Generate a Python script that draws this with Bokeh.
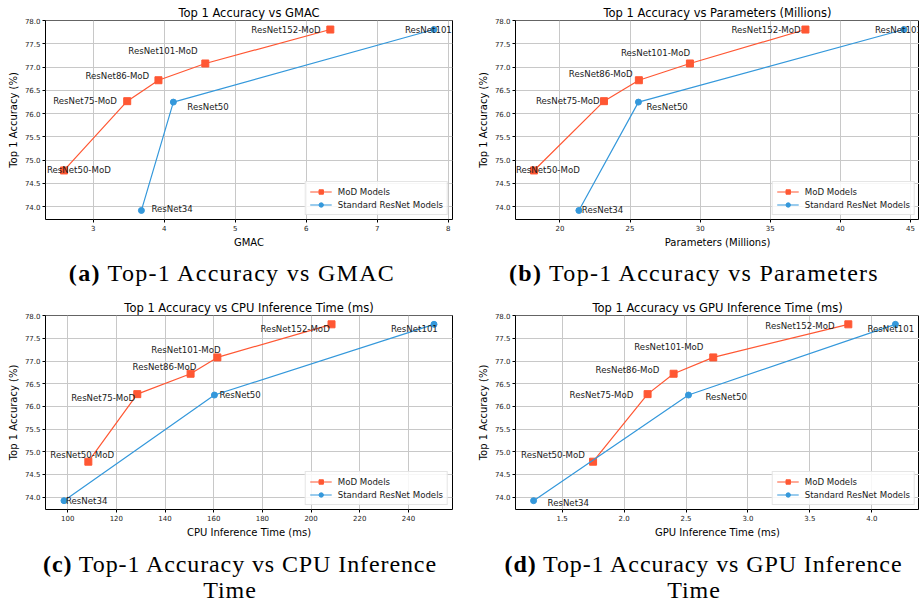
from bokeh.plotting import figure
from bokeh.layouts import column, row
from bokeh.models import (ColumnDataSource, Range1d, FixedTicker, PrintfTickFormatter,
                          Legend, LegendItem, Div)
from bokeh.core.properties import value
from bokeh.embed import file_html
from bokeh.resources import INLINE

# ---------------- data ----------------
mod_names = ["ResNet50-MoD", "ResNet75-MoD", "ResNet86-MoD", "ResNet101-MoD", "ResNet152-MoD"]
std_names = ["ResNet34", "ResNet50", "ResNet101"]
mod_acc = [74.78, 76.27, 76.72, 77.08, 77.81]
std_acc = [73.92, 76.25, 77.81]

mod_gmac = [2.59, 3.48, 3.92, 4.58, 6.34]
std_gmac = [3.68, 4.13, 7.80]
mod_params = [18.15, 23.14, 25.63, 29.27, 37.51]
std_params = [21.35, 25.6, 44.54]
mod_cpu = [108.5, 128.6, 150.5, 161.5, 208.4]
std_cpu = [98.5, 160.3, 250.5]
mod_gpu = [1.75, 2.19, 2.40, 2.72, 3.81]
std_gpu = [1.27, 2.52, 4.19]

acc_ticks = [74.0, 74.5, 75.0, 75.5, 76.0, 76.5, 77.0, 77.5, 78.0]
gmac_ticks = [3, 4, 5, 6, 7, 8]
param_ticks = [20, 25, 30, 35, 40, 45]
cpu_ticks = [100, 120, 140, 160, 180, 200, 220, 240]
gpu_ticks = [1.5, 2.0, 2.5, 3.0, 3.5, 4.0]

# label offsets (screen px: dx to text left edge, dy downward)
off_gmac_mod = [(-17, 0), (-74, 0), (-73, -4), (-77, -12), (-79, 0)]
off_gmac_std = [(10, -1), (14, 5), (-29, 0)]
off_par_mod = [(-18, 0), (-68, 0), (-70, -6), (-69, -10), (-74, 0)]
off_par_std = [(3, 0), (8, 5), (-29, 0)]
off_cpu_mod = [(-38, -7), (-66, 4), (-58, -7), (-66, -7), (-71, 5)]
off_cpu_std = [(2, 0), (5, 0), (-43, 5)]
off_gpu_mod = [(-72, -7), (-78, 1), (-78, -4), (-79, -10), (-83, 2)]
off_gpu_std = [(14, 2), (17, 2), (-28, 5)]

RED = "#FF5733"
BLUE = "#3498DB"
FONT = "DejaVu Sans"

all_acc = mod_acc + std_acc
ylo, yhi = min(all_acc), max(all_acc)
ypad = 0.05 * (yhi - ylo)


def make_panel(title, xlabel, mod_x, std_x, xticks, xfmt, off_mod, off_std,
               width, height, frame_w, full_fw, rb, tb):
    xs = mod_x + std_x
    lo, hi = min(xs), max(xs)
    pad = 0.05 * (hi - lo)
    x0 = lo - pad
    x1 = x0 + (hi - lo + 2 * pad) * frame_w / full_fw
    p = figure(width=width, height=height, x_range=Range1d(x0, x1),
               y_range=Range1d(ylo - ypad, yhi + ypad),
               output_backend="svg", toolbar_location=None,
               min_border_left=45, min_border_right=rb, min_border_top=tb,
               min_border_bottom=27, title=title)
    p.title.text_font = FONT
    p.title.text_font_size = "11.5px"
    p.title.text_font_style = "normal"
    p.title.align = "center"
    p.title.standoff = 2
    p.title.offset = 0
    p.title.text_color = "#000000"
    p.outline_line_color = "#000000"
    p.outline_line_width = 1
    p.background_fill_color = "white"
    p.border_fill_color = "white"

    for ax in (p.xaxis[0], p.yaxis[0]):
        ax.major_label_text_font = FONT
        ax.major_label_text_font_size = "7px"
        ax.major_label_text_color = "#222222"
        ax.axis_label_text_font = FONT
        ax.axis_label_text_font_size = "10px"
        ax.axis_label_text_font_style = "normal"
        ax.axis_label_text_color = "#000000"
        ax.major_tick_in = 0
        ax.major_tick_out = 3
        ax.minor_tick_in = 0
        ax.minor_tick_out = 0
        ax.axis_line_color = None
        ax.major_label_standoff = 2
        ax.axis_label_standoff = 3
    p.xaxis[0].ticker = FixedTicker(ticks=xticks)
    p.xaxis[0].formatter = PrintfTickFormatter(format=xfmt)
    p.yaxis[0].ticker = FixedTicker(ticks=acc_ticks)
    p.yaxis[0].formatter = PrintfTickFormatter(format="%.1f")
    p.xaxis[0].axis_label = xlabel
    p.yaxis[0].axis_label = "Top 1 Accuracy (%)"
    p.grid.grid_line_color = "#c8c8c8"
    p.grid.grid_line_width = 1

    ms = ColumnDataSource(dict(x=mod_x, y=mod_acc, text=mod_names,
                               dx=[o[0] for o in off_mod], dy=[o[1] for o in off_mod]))
    ss = ColumnDataSource(dict(x=std_x, y=std_acc, text=std_names,
                               dx=[o[0] for o in off_std], dy=[o[1] for o in off_std]))
    l1 = p.line("x", "y", source=ms, line_color=RED, line_width=1.2)
    s1 = p.scatter("x", "y", source=ms, marker="square", size=7, fill_color=RED, line_color=RED)
    l2 = p.line("x", "y", source=ss, line_color=BLUE, line_width=1.2)
    s2 = p.scatter("x", "y", source=ss, marker="circle", size=6, fill_color=BLUE, line_color=BLUE)
    for src in (ms, ss):
        p.text(x="x", y="y", text="text", x_offset="dx", y_offset="dy", source=src,
               text_font=value(FONT), text_font_size="8.6px", text_baseline="middle",
               text_align="left", text_color="#1a1a1a")

    leg = Legend(items=[LegendItem(label="MoD Models", renderers=[l1, s1]),
                        LegendItem(label="Standard ResNet Models", renderers=[l2, s2])],
                 location="bottom_right")
    leg.label_text_font = FONT
    leg.label_text_font_size = "8.6px"
    leg.label_text_color = "#1a1a1a"
    leg.border_line_color = "#cccccc"
    leg.border_line_width = 1
    leg.background_fill_alpha = 0.85
    leg.padding = 4
    leg.spacing = 2
    leg.margin = 4
    leg.glyph_width = 22
    leg.glyph_height = 11
    leg.label_height = 11
    leg.label_standoff = 6
    p.add_layout(leg)
    return p


pa = make_panel("Top 1 Accuracy vs GMAC", "GMAC", mod_gmac, std_gmac, gmac_ticks, "%d",
                off_gmac_mod, off_gmac_std, 470, 250, 407, 407, 18, 20)
pb = make_panel("Top 1 Accuracy vs Parameters (Millions)", "Parameters (Millions)",
                mod_params, std_params, param_ticks, "%d", off_par_mod, off_par_std,
                449, 250, 404, 407, 0, 20)
pc = make_panel("Top 1 Accuracy vs CPU Inference Time (ms)", "CPU Inference Time (ms)",
                mod_cpu, std_cpu, cpu_ticks, "%d", off_cpu_mod, off_cpu_std,
                470, 243, 407, 407, 18, 14)
pd = make_panel("Top 1 Accuracy vs GPU Inference Time (ms)", "GPU Inference Time (ms)",
                mod_gpu, std_gpu, gpu_ticks, "%.1f", off_gpu_mod, off_gpu_std,
                449, 243, 404, 398, 0, 14)

CAP = ("font-family:'Liberation Serif',serif;font-size:24px;"
       "color:#000;text-align:center;box-sizing:border-box;white-space:nowrap;")


def cap1(label, text, width, pl, pr):
    return Div(text=f'<div style="{CAP}letter-spacing:1.3px;width:{width}px;padding-top:9px;'
                    f'padding-left:{pl}px;padding-right:{pr}px;line-height:28px">'
                    f'<b>({label})</b> {text}</div>',
               width=width, height=47, margin=0)


def cap2(label, text1, text2, width, pl1, pr1, pl2, pr2):
    return Div(text=f'<div style="{CAP}letter-spacing:0.9px;width:{width}px;padding-top:11px;'
                    f'line-height:26px">'
                    f'<div style="padding-left:{pl1}px;padding-right:{pr1}px"><b>({label})</b> {text1}</div>'
                    f'<div style="padding-left:{pl2}px;padding-right:{pr2}px">{text2}</div></div>',
               width=width, height=64, margin=0)


ca = cap1("a", "Top-1 Accuracy vs GMAC", 470, 0, 6)
cb = cap1("b", "Top-1 Accuracy vs Parameters", 449, 0, 1)
cc = cap2("c", "Top-1 Accuracy vs CPU Inference", "Time", 470, 10, 0, 0, 10)
cd = cap2("d", "Top-1 Accuracy vs GPU Inference", "Time", 449, 18, 0, 0, 1)

layout = column(row(pa, pb), row(ca, cb), row(pc, pd), row(cc, cd))

open("out.html", "w").write(file_html(layout, INLINE))
